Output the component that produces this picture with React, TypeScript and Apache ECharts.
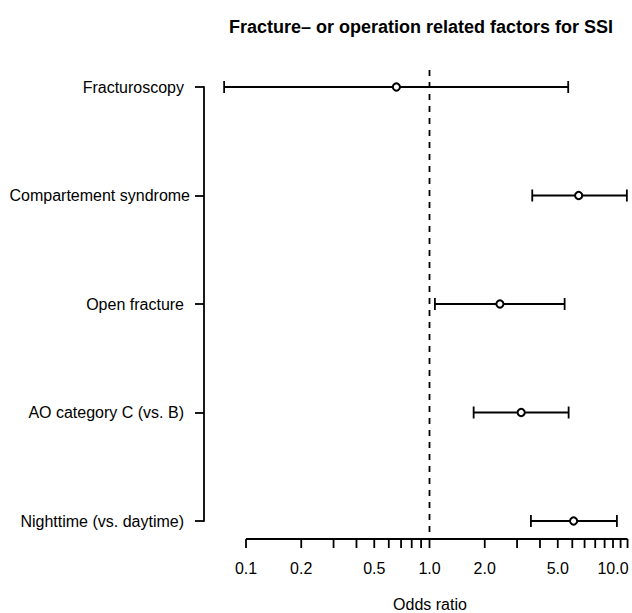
import React, { useEffect, useRef } from "react";
import * as echarts from "echarts";

const categories = [
  "Fracturoscopy",
  "Compartement syndrome",
  "Open fracture",
  "AO category C (vs. B)",
  "Nighttime (vs. daytime)",
];
const oddsRatio = [0.66, 6.5, 2.42, 3.16, 6.1];
const ciLower = [0.076, 3.63, 1.07, 1.74, 3.57];
const ciUpper = [5.7, 11.9, 5.45, 5.73, 10.5];

const majorTicks = [0.1, 0.2, 0.5, 1, 2, 5, 10];
const majorTickLabels = ["0.1", "0.2", "0.5", "1.0", "2.0", "5.0", "10.0"];
const minorTicks = [0.3, 0.4, 0.6, 0.7, 0.8, 0.9, 3, 4, 6, 7, 8, 9, 11, 12];
const axisStart = 0.1;
const axisEnd = 12;
const refValue = 1;

const titleText = "Fracture\u2013 or operation related factors for SSI";
const xAxisTitle = "Odds ratio";

const FONT = "'Liberation Sans', Arial, Helvetica, sans-serif";

export default function App() {
  const ref = useRef<HTMLDivElement>(null);
  useEffect(() => {
    const chart = echarts.init(ref.current!, null, { renderer: "svg" });

    const barData = categories.map((_, i) => [ciLower[i], ciUpper[i], oddsRatio[i], i]);
    const tickData = [
      ...majorTicks.map((v, i) => [v, i]),
      ...minorTicks.map((v) => [v, -1]),
    ];
    const yData = categories.map((c, i) =>
      i === 1 ? { value: c, textStyle: { padding: [0, -6, 0, 0] } } : c
    );

    chart.setOption({
      animation: false,
      backgroundColor: "#ffffff",
      grid: {
        left: 246,
        right: 19,
        top: 87,
        bottom: 92,
        outerBoundsMode: "none",
      },
      xAxis: {
        type: "log",
        logBase: 10,
        min: 0.1,
        max: 10,
        show: false,
      },
      yAxis: {
        type: "category",
        data: yData,
        inverse: true,
        boundaryGap: false,
        offset: 42,
        axisLine: { show: true, lineStyle: { color: "#000", width: 1.8 } },
        axisTick: { show: true, length: 9, lineStyle: { color: "#000", width: 1.8 } },
        axisLabel: { color: "#000", fontSize: 16, fontFamily: FONT, margin: 20 },
        splitLine: { show: false },
      },
      graphic: [
        {
          type: "text",
          x: 421,
          y: 27,
          style: {
            text: titleText,
            fill: "#000",
            font: `bold 18px ${FONT}`,
            align: "center",
            verticalAlign: "middle",
          },
        },
        {
          type: "text",
          x: 430,
          y: 604,
          style: {
            text: xAxisTitle,
            fill: "#000",
            font: `16px ${FONT}`,
            align: "center",
            verticalAlign: "middle",
          },
        },
      ],
      series: [
        {
          type: "custom",
          name: "reference",
          clip: false,
          data: [[refValue, 0]],
          encode: { x: 0, y: 1 },
          renderItem: (params: any, api: any) => {
            const cs = params.coordSys;
            const p = api.coord([api.value(0), 0]);
            return {
              type: "line",
              shape: { x1: p[0], y1: cs.y - 17, x2: p[0], y2: cs.y + cs.height + 17 },
              style: { stroke: "#000", lineWidth: 1.8, lineDash: [6, 6] },
            };
          },
          z: 1,
        },
        {
          type: "custom",
          name: "axis",
          clip: false,
          data: tickData,
          encode: { x: 0 },
          renderItem: (params: any, api: any) => {
            const cs = params.coordSys;
            const axisY = cs.y + cs.height + 18;
            const v = api.value(0);
            const li = api.value(1);
            const x = api.coord([v, 0])[0];
            const children: any[] = [
              {
                type: "line",
                shape: { x1: x, y1: axisY, x2: x, y2: axisY + 9 },
                style: { stroke: "#000", lineWidth: 1.8 },
              },
            ];
            if (params.dataIndex === 0) {
              const xs = api.coord([axisStart, 0])[0];
              const xe = api.coord([axisEnd, 0])[0];
              children.push({
                type: "line",
                shape: { x1: xs, y1: axisY, x2: xe, y2: axisY },
                style: { stroke: "#000", lineWidth: 1.8 },
              });
            }
            if (li >= 0) {
              children.push({
                type: "text",
                x: x,
                y: axisY + 29,
                style: {
                  text: majorTickLabels[li],
                  fill: "#000",
                  font: `16px ${FONT}`,
                  align: "center",
                  verticalAlign: "middle",
                },
              });
            }
            return { type: "group", children };
          },
          z: 2,
        },
        {
          type: "custom",
          name: "Odds ratio (95% CI)",
          clip: false,
          data: barData,
          encode: { x: [0, 1, 2], y: 3 },
          renderItem: (params: any, api: any) => {
            const idx = api.value(3);
            const lo = api.coord([api.value(0), idx]);
            const hi = api.coord([api.value(1), idx]);
            const pt = api.coord([api.value(2), idx]);
            const cap = 6;
            const st = { stroke: "#000", lineWidth: 1.8, fill: "none" };
            return {
              type: "group",
              children: [
                { type: "line", shape: { x1: lo[0], y1: lo[1], x2: hi[0], y2: hi[1] }, style: st },
                { type: "line", shape: { x1: lo[0], y1: lo[1] - cap, x2: lo[0], y2: lo[1] + cap }, style: st },
                { type: "line", shape: { x1: hi[0], y1: hi[1] - cap, x2: hi[0], y2: hi[1] + cap }, style: st },
                {
                  type: "circle",
                  shape: { cx: pt[0], cy: pt[1], r: 3.6 },
                  style: { stroke: "#000", lineWidth: 2, fill: "#fff" },
                },
              ],
            };
          },
          z: 3,
        },
      ],
    });
    return () => chart.dispose();
  }, []);
  return (
    <div
      ref={ref}
      style={{ position: "absolute", left: 0, top: 0, width: 632, height: 613 }}
    />
  );
}
